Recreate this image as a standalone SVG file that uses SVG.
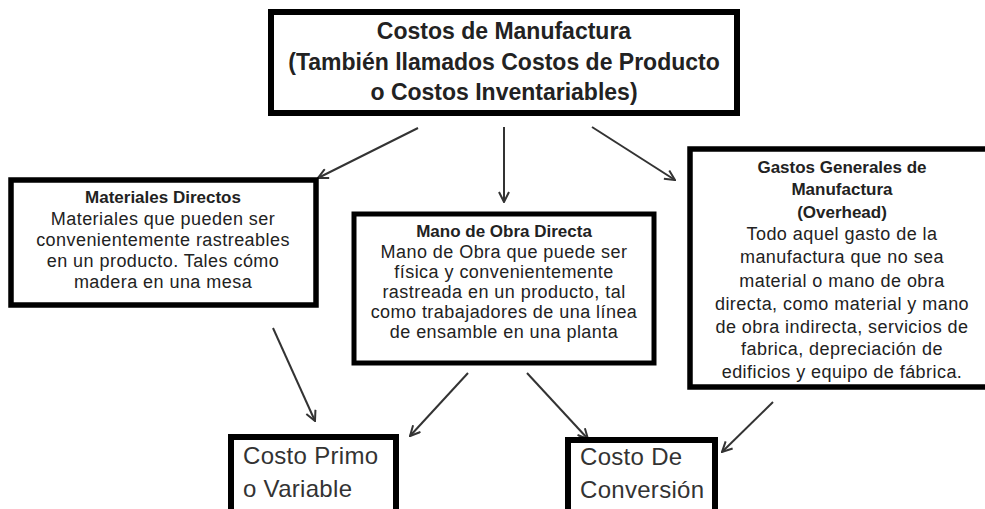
<svg xmlns="http://www.w3.org/2000/svg" width="985" height="509" viewBox="0 0 985 509">
<style>
.box{fill:#fff;stroke:#000;stroke-width:6}
.t{font-family:"Liberation Sans",Arial,sans-serif;fill:#222;text-anchor:middle}
.b{font-weight:bold}
.s{font-size:18px;letter-spacing:0.45px}
.big{font-family:"Liberation Sans",Arial,sans-serif;fill:#333;font-size:24px;letter-spacing:0.3px}
.c{fill:none;stroke:#333;stroke-width:2;marker-end:url(#ah)}
</style>
<defs>
<marker id="ah" viewBox="0 0 12 12" refX="11" refY="6" markerWidth="12" markerHeight="12" markerUnits="userSpaceOnUse" orient="auto">
<path d="M1,1 L11,6 L1,11" fill="none" stroke="#333" stroke-width="2"/>
</marker>
</defs>
<rect width="985" height="509" fill="#fff"/>
<g id="connectors">
<line class="c" x1="418" y1="128" x2="318" y2="178"/>
<line class="c" x1="504" y1="127" x2="504" y2="202"/>
<line class="c" x1="592" y1="127" x2="675" y2="180"/>
<line class="c" x1="273" y1="328" x2="315" y2="421"/>
<line class="c" x1="468" y1="373" x2="410" y2="436"/>
<line class="c" x1="527" y1="373" x2="588" y2="439"/>
<line class="c" x1="773" y1="402" x2="722" y2="452"/>
</g>
<g id="costos-manufactura">
<rect class="box" x="271" y="12" width="466" height="101"/>
<text class="t b" font-size="23" x="504" y="39">Costos de Manufactura</text>
<text class="t b" font-size="23" x="504" y="70">(También llamados Costos de Producto</text>
<text class="t b" font-size="23" x="504" y="100">o Costos Inventariables)</text>
</g>
<g id="materiales-directos">
<rect class="box" x="11" y="180" width="305" height="125" style="stroke-width:5.5"/>
<text class="t b" font-size="17" x="163" y="203">Materiales Directos</text>
<text class="t s" x="163" y="225">Materiales que pueden ser</text>
<text class="t s" x="163" y="246">convenientemente rastreables</text>
<text class="t s" x="163" y="267">en un producto. Tales cómo</text>
<text class="t s" x="163" y="288">madera en una mesa</text>
</g>
<g id="mano-obra-directa">
<rect class="box" x="354" y="214" width="300" height="149" style="stroke-width:5"/>
<text class="t b" font-size="17" x="504" y="237">Mano de Obra Directa</text>
<text class="t s" x="504" y="258">Mano de Obra que puede ser</text>
<text class="t s" x="504" y="278">física y convenientemente</text>
<text class="t s" x="504" y="298">rastreada en un producto, tal</text>
<text class="t s" x="504" y="318">como trabajadores de una línea</text>
<text class="t s" x="504" y="338">de ensamble en una planta</text>
</g>
<g id="gastos-generales">
<rect class="box" x="690" y="149" width="320" height="238" style="stroke-width:5.5"/>
<text class="t b" font-size="17" x="842" y="173">Gastos Generales de</text>
<text class="t b" font-size="17" x="842" y="195">Manufactura</text>
<text class="t b" font-size="17" x="842" y="218">(Overhead)</text>
<text class="t s" x="842" y="240">Todo aquel gasto de la</text>
<text class="t s" x="842" y="263">manufactura que no sea</text>
<text class="t s" x="842" y="287">material o mano de obra</text>
<text class="t s" x="842" y="310">directa, como material y mano</text>
<text class="t s" x="842" y="333">de obra indirecta, servicios de</text>
<text class="t s" x="842" y="355">fabrica, depreciación de</text>
<text class="t s" x="842" y="378">edificios y equipo de fábrica.</text>
</g>
<g id="costo-primo">
<rect class="box" x="231" y="437" width="165" height="90"/>
<text class="big" x="243" y="464">Costo Primo</text>
<text class="big" x="243" y="497">o Variable</text>
</g>
<g id="costo-conversion">
<rect class="box" x="568" y="440" width="147" height="90"/>
<text class="big" x="580" y="465">Costo De</text>
<text class="big" x="580" y="498">Conversión</text>
</g>
</svg>
